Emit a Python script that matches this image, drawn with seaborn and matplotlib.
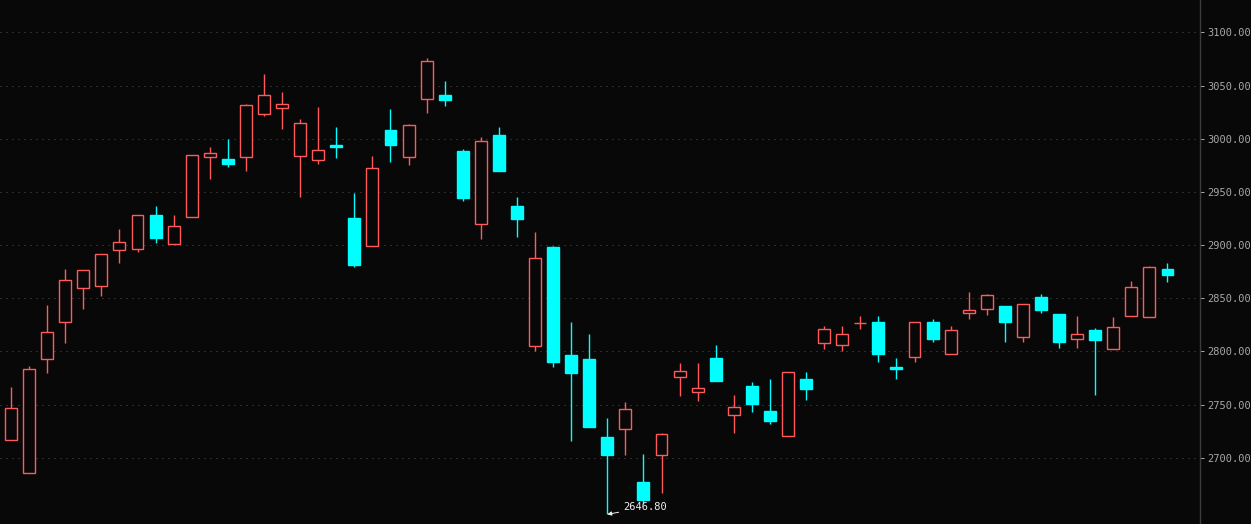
import matplotlib

matplotlib.use("Agg")
import matplotlib.pyplot as plt
import numpy as np
import pandas as pd
import seaborn as sns

BG = "#080808"
UP = "#ff5a5a"
DOWN = "#00ffff"
GRID = "#525252"
AXIS_TEXT = "#a8a8a8"

# daily bars, oldest first
opens = [2716.4, 2685.3, 2792.5, 2827.3, 2859.3, 2861.2, 2895.0, 2896.0, 2928.2, 2900.7,
         2926.0, 2982.5, 2980.9, 2982.5, 3022.9, 3028.5, 2983.4, 2979.6, 2994.0, 2925.4,
         2899.3, 3008.1, 2982.5, 3037.0, 3041.0, 2988.4, 2919.5, 3003.4, 2936.7, 2804.7,
         2898.1, 2796.6, 2792.8, 2719.5, 2726.7, 2677.2, 2702.8, 2775.6, 2761.5, 2793.7,
         2739.9, 2767.5, 2743.9, 2720.1, 2774.0, 2807.6, 2805.7, 2826.4, 2827.6, 2785.3,
         2795.0, 2827.6, 2797.8, 2835.8, 2840.1, 2842.6, 2813.8, 2851.1, 2835.1, 2811.9,
         2820.1, 2801.9, 2833.0, 2832.0, 2877.4]
highs = [2766.5, 2785.9, 2843.6, 2877.4, 2876.2, 2892.0, 2915.0, 2928.0, 2936.7, 2928.2,
         2984.3, 2992.2, 2999.7, 3032.6, 3060.8, 3043.9, 3018.5, 3029.8, 3011.0, 2948.9,
         2983.7, 3027.9, 3013.8, 3075.8, 3054.2, 2990.3, 3001.6, 3011.0, 2945.1, 2912.2,
         2899.1, 2827.6, 2816.3, 2737.3, 2752.4, 2703.5, 2723.2, 2789.0, 2789.0, 2806.0,
         2759.0, 2771.2, 2774.0, 2780.3, 2780.6, 2823.8, 2823.8, 2833.2, 2833.2, 2793.7,
         2827.3, 2830.1, 2823.8, 2855.8, 2853.9, 2842.6, 2844.2, 2853.9, 2835.1, 2833.2,
         2822.0, 2832.3, 2866.1, 2880.3, 2883.1]
lows = [2716.4, 2685.3, 2779.9, 2808.1, 2840.1, 2852.3, 2883.4, 2893.7, 2902.2, 2900.7,
        2926.0, 2962.3, 2973.6, 2969.9, 3021.6, 3009.4, 2945.4, 2976.4, 2982.1, 2879.6,
        2899.3, 2978.3, 2975.5, 3024.4, 3031.0, 2941.7, 2905.9, 2969.9, 2907.8, 2800.6,
        2785.6, 2716.0, 2729.1, 2646.8, 2702.8, 2656.7, 2667.1, 2758.3, 2753.6, 2772.4,
        2723.5, 2743.3, 2732.0, 2720.1, 2754.5, 2802.5, 2800.6, 2821.3, 2790.3, 2774.3,
        2790.3, 2809.1, 2797.8, 2830.7, 2834.5, 2809.1, 2809.1, 2836.3, 2803.4, 2803.4,
        2759.2, 2801.9, 2833.0, 2832.0, 2865.5]
closes = [2746.4, 2783.1, 2817.9, 2866.8, 2876.2, 2891.3, 2902.5, 2927.9, 2906.9, 2917.6,
          2984.3, 2986.2, 2976.4, 3031.4, 3040.8, 3032.3, 3014.4, 2989.0, 2992.6, 2881.5,
          2972.1, 2994.3, 3012.5, 3072.7, 3036.6, 2944.5, 2997.5, 2969.9, 2924.7, 2887.5,
          2790.3, 2779.9, 2729.1, 2702.8, 2745.5, 2660.5, 2722.0, 2781.2, 2765.3, 2772.4,
          2747.4, 2750.8, 2734.8, 2780.3, 2764.9, 2820.7, 2816.0, 2826.4, 2797.8, 2783.7,
          2827.3, 2811.9, 2819.8, 2838.6, 2852.7, 2827.9, 2844.2, 2839.2, 2809.1, 2816.0,
          2811.0, 2822.6, 2860.2, 2879.0, 2872.1]

price_ticks = [2700, 2750, 2800, 2850, 2900, 2950, 3000, 3050, 3100]


def main() -> None:
    sns.set_theme(style="dark", rc={
        "figure.facecolor": BG,
        "axes.facecolor": BG,
        "savefig.facecolor": BG,
    })
    plt.rcParams["font.family"] = ["DejaVu Sans Mono", "DejaVu Sans"]

    df = pd.DataFrame({"open": opens, "high": highs, "low": lows, "close": closes})
    df["x"] = np.arange(len(df))
    df["up"] = df["close"] >= df["open"]
    df["top"] = df[["open", "close"]].max(axis=1)
    df["bot"] = df[["open", "close"]].min(axis=1)

    fig = plt.figure(figsize=(12.51, 5.24), dpi=100)
    ax = fig.add_axes([0, 0, 1200 / 1251, 1])

    for tick in price_ticks:
        ax.axhline(tick, color=GRID, linewidth=0.72, linestyle=(0, (1, 5)), zorder=0)

    # wicks drawn outside the body so hollow candles stay empty inside
    for up, color in [(True, UP), (False, DOWN)]:
        sub = df[df["up"] == up]
        ax.vlines(sub["x"], sub["top"], sub["high"], color=color, linewidth=1.0, zorder=2)
        ax.vlines(sub["x"], sub["low"], sub["bot"], color=color, linewidth=1.0, zorder=2)

    up_df = df[df["up"]]
    down_df = df[~df["up"]]
    ax.bar(up_df["x"], up_df["top"] - up_df["bot"], bottom=up_df["bot"], width=0.66,
           facecolor=BG, edgecolor=UP, linewidth=1.0, zorder=3)
    ax.bar(down_df["x"], down_df["top"] - down_df["bot"], bottom=down_df["bot"], width=0.66,
           facecolor=DOWN, edgecolor=DOWN, linewidth=1.0, zorder=3)

    # lowest low marker
    i_low = int(df["low"].idxmin())
    ax.annotate(f"{df['low'][i_low]:.2f}", xy=(i_low, df["low"][i_low]),
                xytext=(11.5, 5), textcoords="offset points", ha="left", va="center",
                color="#f0f0f0", fontsize=7.5,
                arrowprops=dict(arrowstyle="-|>", color="#f0f0f0", lw=0.7,
                                shrinkA=1, shrinkB=0, mutation_scale=6))

    ax.set_xlim(-0.61, 65.8)
    ax.set_ylim(2637.7, 3130.4)
    ax.set_xticks([])
    ax.yaxis.tick_right()
    ax.set_yticks(price_ticks)
    ax.set_yticklabels([f"{t:.2f}" for t in price_ticks])
    ax.tick_params(axis="y", colors=AXIS_TEXT, labelsize=7.5, length=3, width=0.7,
                   direction="out", pad=2, right=True, left=False)
    ax.grid(False)
    for side in ["left", "top", "bottom"]:
        ax.spines[side].set_visible(False)
    ax.spines["right"].set_visible(True)
    ax.spines["right"].set_color("#3c3c3c")
    ax.spines["right"].set_linewidth(1.0)

    fig.savefig("out.png", dpi=100, facecolor=BG)
    plt.close(fig)


if __name__ == "__main__":
    main()
